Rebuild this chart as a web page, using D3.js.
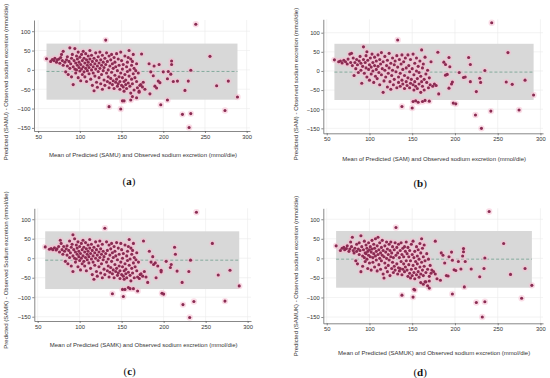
<!DOCTYPE html>
<html>
<head>
<meta charset="utf-8">
<script src="https://cdn.jsdelivr.net/npm/d3@7"></script>
<style>
  body { margin: 0; background: #fff; }
  svg text { font-family: "Liberation Sans", Arial, sans-serif; fill: #333; }
  .axis line, .axis path { stroke: #555; stroke-width: 0.7; }
  .grid line { stroke: #ebebeb; stroke-width: 0.6; }
  .tag { font-family: "Liberation Serif", "Times New Roman", serif; fill: #111; }
</style>
</head>
<body>
<svg id="chart" width="550" height="378"></svg>
<script>
// Bland-Altman plots: x = mean of predicted and observed, y = predicted - observed (mmol/die)

var panelNames = ["SAMU", "SAM", "SAMK", "SAMUK"];
var panelTags = ["a", "b", "c", "d"];
var xTicks = [50, 100, 150, 200, 250, 300];
var yTicks = [-150, -100, -50, 0, 50, 100];

var xLabels = [
    "Mean of Predicted (SAMU) and Observed sodium excretion (mmol/die)",
    "Mean of Predicted (SAM) and Observed sodium excretion (mmol/die)",
    "Mean of Predicted (SAMK) and Observed sodium excretion (mmol/die)",
    "Mean of Predicted (SAMUK) and Observed sodium excretion (mmol/die)"
];
var yLabels = [
    "Predicted (SAMU) - Observed sodium excretion (mmol/die)",
    "Predicted (SAM) - Observed sodium excretion (mmol/die)",
    "Predicted (SAMK) - Observed Sodium excretion (mmol/die)",
    "Predicted (SAMUK) - Observed sodium excretion (mmol/die)"
];

// mean difference and limits of agreement
var meanDiff = [-4, -3, -5, -2];
var lowerLimit = [-77, -76, -79, -75];
var upperLimit = [68, 71, 69, 70];

var samuPoints = [
    [60,29],[65,22],[67,27],[69,24],[70,30],[72,20],[73,26],[75,28],[76,17],[77,32],[78,40],[79,24],[80,12],[80,48],
    [82,20],[83,-5],[84,26],[85,10],[85,34],[86,-12],[87,22],[88,57],[88,4],[89,16],[90,30],[90,-18],[91,40],[92,8],
    [92,-38],[93,24],[94,2],[94,55],[95,18],[95,-8],[96,36],[96,0],[97,12],[97,28],[98,-20],[98,46],[99,6],[99,20],
    [100,-3],[100,33],[101,14],[101,-28],[102,40],[102,2],[103,24],[103,-12],[104,8],[104,48],[105,30],[105,-5],
    [106,18],[106,-18],[107,42],[107,4],[108,26],[108,-30],[109,12],[109,-2],[110,36],[110,20],[111,-10],[111,6],
    [112,28],[112,50],[113,-24],[113,14],[114,0],[114,38],[115,22],[115,-40],[116,-8],[116,8],[117,30],[117,-54],
    [118,16],[118,-16],[119,44],[119,2],[120,-32],[120,24],[121,10],[121,-45],[122,34],[122,-4],[123,18],[123,-20],
    [124,46],[124,4],[125,-36],[125,26],[126,12],[126,-12],[127,-50],[127,38],[128,-2],[128,20],[129,-26],[129,6],
    [130,30],[130,-40],[131,77],[131,14],[132,-8],[132,44],[133,-30],[133,22],[134,0],[134,-18],[135,36],[135,-46],
    [136,10],[136,-34],[137,-22],[137,26],[138,-6],[138,40],[139,-38],[139,16],[140,-28],[140,4],[141,32],[141,-48],
    [142,-14],[142,20],[143,-32],[143,8],[144,42],[144,-24],[145,-42],[145,-2],[146,28],[146,-36],[147,-18],[147,12],
    [148,-50],[148,-30],[149,46],[149,-8],[150,-40],[150,24],[151,-20],[151,2],[152,-44],[152,14],[153,-30],[153,-55],
    [154,36],[154,-12],[155,-38],[155,-26],[156,8],[156,-48],[157,-4],[157,20],[158,-34],[158,32],[159,-16],[159,50],
    [160,-42],[160,0],[161,28],[161,-60],[162,-24],[162,12],[163,-36],[163,22],[164,-10],[164,40],[165,-52],[165,4],
    [166,-20],[167,-2],[168,16],[168,-30],[169,-46],[170,-8],[171,-55],[172,-40],[173,-38],[174,41],[175,-44],
    [176,-32],[178,-50],
    [135,-95],[149,-101],[151,-80],[153,-80],[161,-78],[163,-69],[168,-72],[171,-58],[184,-62],
    [183,16],[185,-5],[188,-15],[189,10],[190,-42],[192,-47],[194,-29],[195,14],[196,-33],[197,-90],[200,-5],
    [205,-23],[206,-4],[205,-78],[209,-11],[210,14],[210,23],[212,-30],
    [217,-29],[226,-53],[230,-29],[233,-1],[223,-115],[233,-113],[231,-149],[239,118],[256,35],[264,-41],
    [278,-29],[274,-105],[289,-70]
];

var samPoints = [
    [59,29],[64,24],[66,26],[68,21],[70,28],[72,24],[74,18],[75,31],[77,44],[78,22],[79,46],[80,14],[81,34],
    [82,-12],[83,22],[84,6],[85,30],[86,16],[87,-4],[88,26],[89,38],[90,2],[90,20],[91,-32],[92,12],[93,63],[93,30],
    [94,-6],[95,22],[96,8],[96,40],[97,50],[97,-16],[98,28],[99,4],[100,16],[100,-24],
    [101,34],[102,10],[102,-8],[103,44],[104,22],[104,0],[105,-30],[106,14],[106,36],[107,-14],[108,26],[108,4],
    [109,-20],[110,42],[110,12],[111,-4],[112,30],[112,-36],[113,18],[114,48],[114,-10],[115,6],[116,-56],[116,24],
    [117,-26],[118,38],[118,2],[119,-16],[120,14],
    [121,-42],[121,28],[122,-6],[123,46],[123,8],[124,-28],[125,20],[125,-48],[126,-12],[127,34],[127,2],[128,-36],
    [129,16],[129,-22],[130,26],[131,-2],[132,-44],[132,40],[133,81],[133,10],[134,-30],[134,-16],[135,30],[136,-6],
    [136,-40],[137,18],[138,-24],[138,42],[139,-34],[139,4],[140,24],[141,-12],[141,-46],[142,34],[143,-28],[143,8],
    [144,-38],[145,-18],[145,42],[146,14],[147,-44],[147,-2],[148,30],[148,-32],[149,-22],[150,6],
    [151,-36],[151,44],[152,-10],[152,-50],[153,20],[153,-28],[154,-40],[155,0],[155,34],[156,-20],[156,-46],
    [157,12],[158,-34],[158,-4],[159,26],[160,-14],[160,-56],[161,55],[161,-28],[162,8],[162,-40],[163,18],
    [164,-22],[164,-50],[165,36],[166,-8],[167,-30],[168,2],[169,-44],[170,-18],[171,-36],[172,24],[174,-40],
    [176,-34],[178,-38],[180,49],[181,-60],
    [138,-93],[150,-97],[151,-80],[154,-78],[157,-82],[162,-80],[165,-77],[170,-79],
    [187,23],[189,17],[189,-11],[191,-9],[193,35],[194,11],[193,-45],[196,-34],[197,-29],[198,-84],[201,-86],
    [205,-4],[210,-17],[212,-16],[216,35],[218,17],[218,-28],[225,-54],[229,-19],[230,-30],[235,1],[224,-115],
    [231,-150],[242,-105],[243,126],[260,-29],[262,48],[267,-35],[275,-102],[282,-24],[292,-63]
];

var samkPoints = [
    [59,29],[64,23],[66,25],[68,22],[70,27],[72,21],[73,24],[75,30],[76,16],[77,46],[78,38],[79,22],[80,10],[81,30],
    [82,18],[83,-8],[84,24],[85,8],[85,32],[86,-14],[87,20],[88,44],[88,2],[89,14],[90,28],[90,-20],[91,36],[92,6],
    [92,-34],[92,60],[93,22],[94,0],[94,50],[95,16],[95,-10],[96,34],[96,-2],[97,10],[97,26],[98,-22],[98,42],
    [99,4],[99,18],[100,-6],[100,30],[101,12],[101,-30],[102,38],[102,0],[103,22],[103,-14],[104,6],[104,46],
    [105,28],[105,-8],[106,16],[106,-20],[107,40],[107,2],[108,24],[108,-32],[109,10],[109,-4],[110,34],[110,18],
    [111,-12],[111,4],[112,26],[112,48],[113,-26],[113,12],[114,-2],[114,36],[115,20],[115,-42],[116,-10],[116,6],
    [117,28],[117,-54],[118,14],[118,-18],[119,42],[119,0],[120,-34],[120,22],[121,8],[121,-46],[122,32],[122,-6],
    [123,16],[123,-22],[124,44],[124,2],[125,-38],[125,24],[126,10],[126,-14],[127,-50],[127,36],[128,-4],[128,18],
    [129,-28],[129,4],[130,77],[130,-42],[131,12],[132,-10],[132,42],[133,-32],[133,20],[134,-2],[134,-20],
    [135,34],[135,-48],[136,8],[136,-36],[137,-24],[137,24],[138,-8],[138,38],[139,-40],[139,14],[140,-30],[140,2],
    [141,30],[141,-50],[142,-16],[142,18],[143,-34],[143,6],[144,40],[144,-26],[145,-44],[145,-4],[146,26],
    [146,-38],[147,-20],[147,10],[148,-52],[148,-32],[149,38],[149,-10],[150,-42],[150,22],[151,-22],[151,0],
    [152,-46],[152,12],[153,-32],[153,-54],[154,34],[154,-14],[155,-40],[155,-28],[156,6],[156,-50],[157,-6],
    [157,18],[158,-36],[158,30],[159,-18],[159,48],[160,-44],[160,-2],[161,26],[161,-58],[162,-26],[162,10],
    [163,-38],[163,20],[164,-12],[164,38],[165,-50],[165,2],[166,-22],[167,-4],[168,14],[168,-32],[169,-48],
    [170,-10],[171,-52],[172,-42],[173,-40],[176,44],[175,-46],[177,-34],[179,-48],
    [139,-91],[152,-98],[151,-80],[154,-80],[158,-75],[160,-78],[164,-78],[169,-84],[181,-62],
    [183,18],[185,-10],[187,4],[188,-16],[190,-12],[191,-50],[193,-20],[197,-35],[197,-31],[198,-90],[200,-92],
    [203,-8],[208,-24],[209,-16],[213,28],[214,10],[216,-33],[222,-62],[230,-34],[232,-5],[223,-119],[236,-111],
    [231,-152],[239,118],[258,38],[265,-43],[279,-31],[273,-110],[290,-71]
];

var samukPoints = [
    [61,32],[66,20],[68,26],[70,28],[71,22],[73,25],[74,32],[76,18],[77,24],[78,42],[79,30],[80,54],[81,20],
    [82,14],[83,26],[84,-6],[85,18],[85,36],[86,-14],[87,24],[88,10],[88,40],[89,20],[90,58],[90,-34],[91,30],
    [92,6],[92,-20],[93,22],[94,44],[94,2],[95,14],[95,-8],[96,34],[96,12],[97,26],[97,-2],[98,18],[98,-26],
    [99,8],[99,40],[100,22],[100,-12],[101,30],[101,4],[102,16],[102,-30],[103,46],[103,24],[104,2],[104,-10],
    [105,36],[105,12],[106,-22],[106,26],[107,6],[107,50],[108,-4],[108,18],[109,-32],[109,32],[110,10],[110,54],
    [111,-16],[111,22],[112,0],[112,40],[113,14],[113,-28],[114,28],[114,-6],[115,46],[115,8],[116,-40],[116,20],
    [117,-50],[117,4],[118,32],[118,-12],[119,16],[119,-24],[120,42],[120,0],[121,-34],[121,24],[122,10],[122,-18],
    [123,36],[123,-4],[124,20],[124,-44],[125,4],[125,42],[126,-26],[126,14],[127,-10],[127,30],[128,-36],[128,2],
    [129,22],[129,-20],[130,40],[130,-30],[131,79],[131,8],[132,-14],[132,28],[133,-40],[133,14],[134,-24],
    [134,36],[135,2],[135,-32],[136,20],[136,-26],[137,-8],[137,40],[138,-42],[138,10],[139,-28],[139,26],
    [140,-14],[140,4],[141,-34],[141,30],[142,18],[142,-22],[143,42],[143,-6],[144,-30],[144,12],[145,-46],
    [145,28],[146,-16],[146,4],[147,-38],[147,20],[148,-50],[148,-6],[149,36],[149,-28],[150,-44],[150,10],
    [151,-18],[151,44],[152,-36],[152,2],[153,-52],[153,18],[154,-26],[154,-8],[155,-42],[155,30],[156,-14],
    [156,6],[157,-34],[157,22],[158,-48],[158,-2],[159,38],[159,-22],[160,-40],[160,14],[161,50],[161,-10],
    [162,-30],[162,26],[163,-44],[163,4],[164,-20],[164,34],[165,-60],[165,-6],[166,-36],[167,12],[168,-28],
    [168,-70],[169,-2],[170,-46],[170,-58],[171,-18],[172,-38],[173,-30],[175,-34],[177,44],[177,-40],[179,-52],
    [138,-94],[151,-99],[152,-79],[153,-81],[160,-62],[163,-66],[166,-60],[170,-76],[183,-56],
    [184,14],[186,8],[188,-12],[190,-44],[192,-45],[193,4],[196,16],[197,-5],[197,-91],[199,-29],[201,-31],
    [204,-8],[207,-27],[209,6],[210,25],[210,17],[211,-73],[212,-8],[219,-27],[229,-47],[234,-26],[235,1],
    [225,-113],[235,-111],[232,-150],[240,120],[257,38],[265,-41],[282,-26],[278,-102],[290,-69]
];

var pointSets = [samuPoints, samPoints, samkPoints, samukPoints];

// pixel placement of each panel's axes and the value range they span
var frames = [
    {left: 34, right: 250, top: 20, bottom: 131, x0: 45, x1: 304, y0: -158, y1: 129,
     yLabelX: 6, yLabelY: 82, xLabelY: 157, tagY: 185},
    {left: 323.3, right: 543, top: 19.3, bottom: 133.3, x0: 46, x1: 303, y0: -163, y1: 135,
     yLabelX: 296, yLabelY: 84, xLabelY: 161, tagY: 187},
    {left: 34.3, right: 251, top: 208.3, bottom: 321, x0: 46, x1: 304, y0: -161, y1: 128,
     yLabelX: 6, yLabelY: 270, xLabelY: 347, tagY: 375},
    {left: 323.3, right: 543, top: 208.3, bottom: 323.3, x0: 46, x1: 303, y0: -166, y1: 128,
     yLabelX: 296, yLabelY: 276, xLabelY: 355, tagY: 376}
];

var svg = d3.select("#chart");

function drawPanel(i) {
    var f = frames[i];
    var data = pointSets[i];
    var g = svg.append('g');

    var x = d3.scaleLinear().domain([f.x0, f.x1]).range([f.left, f.right]);
    var y = d3.scaleLinear().domain([f.y0, f.y1]).range([f.bottom, f.top]);

    // faint grid
    var grid = g.append('g').attr('class', "grid");
    grid.selectAll('line.gx').data(xTicks).enter().append('line')
        .attr('x1', function(d) { return x(d); }).attr('x2', function(d) { return x(d); })
        .attr('y1', f.top).attr('y2', f.bottom);
    grid.selectAll('line.gy').data(yTicks).enter().append('line')
        .attr('y1', function(d) { return y(d); }).attr('y2', function(d) { return y(d); })
        .attr('x1', f.left).attr('x2', f.right);

    // limits of agreement band, spanning the observed x range
    var xExt = d3.extent(data, function(d) { return d[0]; });
    g.append('rect')
        .attr('x', x(xExt[0]))
        .attr('width', x(xExt[1]) - x(xExt[0]))
        .attr('y', y(upperLimit[i]))
        .attr('height', y(lowerLimit[i]) - y(upperLimit[i]))
        .attr('fill', "#d8d8d8");

    g.append('line')
        .attr('x1', x(xExt[0])).attr('x2', x(xExt[1]))
        .attr('y1', y(meanDiff[i])).attr('y2', y(meanDiff[i]))
        .attr('stroke', "#6f9e8e")
        .attr('stroke-width', 0.8)
        .attr('stroke-dasharray', "3,2");

    // points (with the soft pink bleed seen around them)
    g.append('g').selectAll('circle').data(data).enter().append('circle')
        .attr('cx', function(d) { return x(d[0]); })
        .attr('cy', function(d) { return y(d[1]); })
        .attr('r', 3.2)
        .attr('fill', "#f6bfd1")
        .attr('opacity', 0.55);
    g.append('g').selectAll('circle').data(data).enter().append('circle')
        .attr('cx', function(d) { return x(d[0]); })
        .attr('cy', function(d) { return y(d[1]); })
        .attr('r', 1.55)
        .attr('fill', "#8a2b52");

    // axes
    g.append('g').attr('class', "axis")
        .attr('transform', "translate(0," + f.bottom + ")")
        .call(d3.axisBottom(x).tickValues(xTicks).tickSize(2).tickSizeOuter(0).tickPadding(1.5));
    g.append('g').attr('class', "axis")
        .attr('transform', "translate(" + f.left + ",0)")
        .call(d3.axisLeft(y).tickValues(yTicks).tickSize(2).tickSizeOuter(0).tickPadding(1.5)
              .tickFormat(function(d) { return d < 0 ? "\u2212" + Math.abs(d) : d; }));
    g.selectAll('.axis text').attr('font-size', 5.8).attr('fill', "#333")
        .style('font-family', '"Liberation Sans", Arial, sans-serif');

    g.append('text')
        .attr('x', (f.left + f.right) / 2 + 1)
        .attr('y', f.xLabelY)
        .attr('text-anchor', "middle")
        .attr('font-size', 6)
        .text(xLabels[i]);
    g.append('text')
        .attr('transform', "translate(" + f.yLabelX + "," + f.yLabelY + ") rotate(-90)")
        .attr('text-anchor', "middle")
        .attr('dy', "0.35em")
        .attr('font-size', 6)
        .text(yLabels[i]);

    var tag = g.append('text').attr('class', "tag")
        .attr('x', (f.left + f.right) / 2 - 13)
        .attr('y', f.tagY)
        .attr('text-anchor', "middle")
        .attr('font-size', 11);
    tag.append('tspan').text("(");
    tag.append('tspan').attr('font-weight', "bold").text(panelTags[i]);
    tag.append('tspan').text(")");
}

for (var i = 0; i < 4; i++) {
    drawPanel(i);
}
</script>
</body>
</html>
